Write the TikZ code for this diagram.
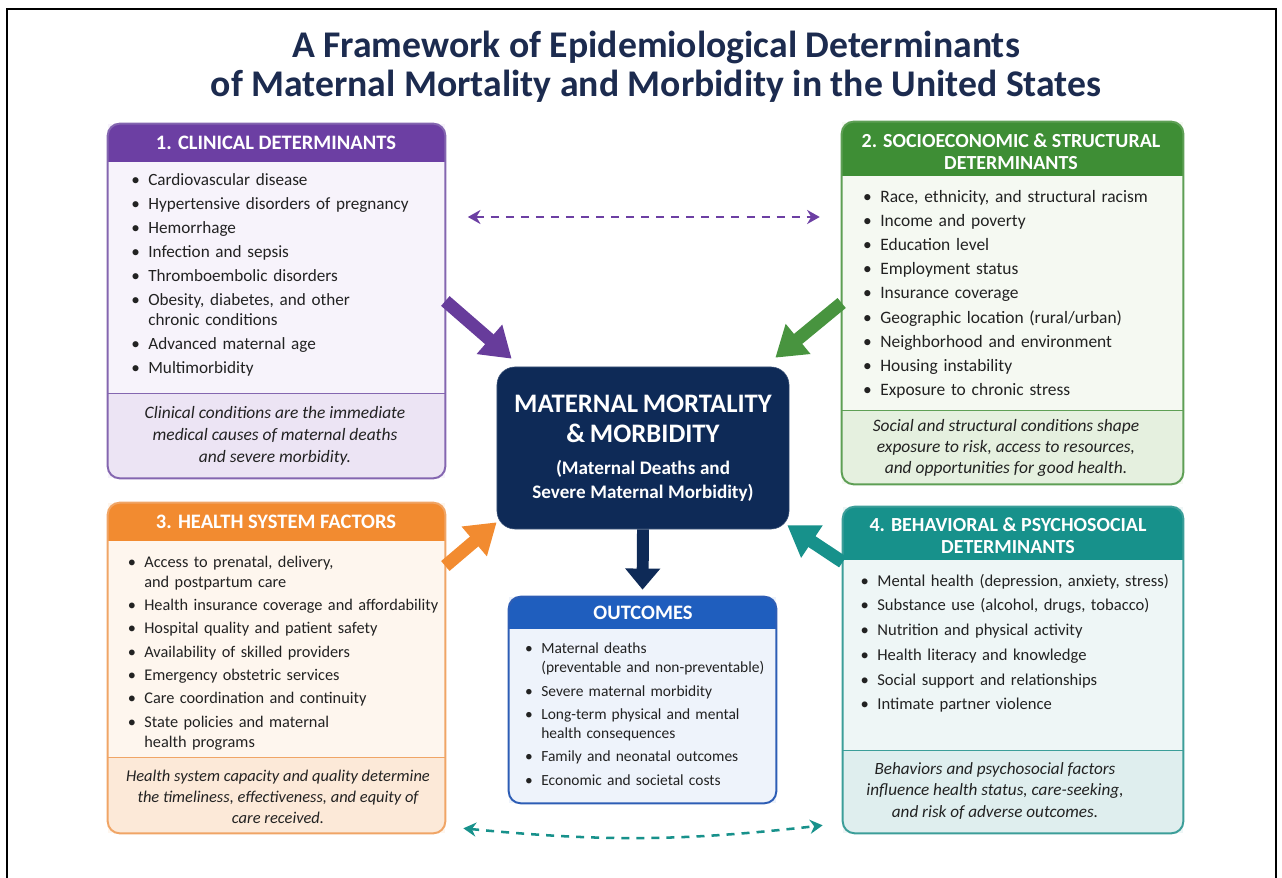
\documentclass[tikz,border=0pt]{standalone}
\usepackage{fontspec}
\setmainfont{Carlito}
\usepackage{enumitem}
\usetikzlibrary{positioning,arrows.meta,calc}

\definecolor{ink}{HTML}{1C2B4F}
\definecolor{txt}{HTML}{222222}
\definecolor{navy}{HTML}{0E2A57}
\definecolor{purpHead}{HTML}{6C3FA3}
\definecolor{purpBody}{HTML}{F7F3FB}
\definecolor{purpFoot}{HTML}{ECE4F4}
\definecolor{purpLine}{HTML}{8466B0}
\definecolor{grnHead}{HTML}{3E8E35}
\definecolor{grnBody}{HTML}{F5F9F2}
\definecolor{grnFoot}{HTML}{E5F0DF}
\definecolor{grnLine}{HTML}{5E9F55}
\definecolor{orngHead}{HTML}{F28B30}
\definecolor{orngBody}{HTML}{FEF6EE}
\definecolor{orngFoot}{HTML}{FCE9D8}
\definecolor{orngLine}{HTML}{F0A566}
\definecolor{tealHead}{HTML}{17918B}
\definecolor{tealBody}{HTML}{EEF6F6}
\definecolor{tealFoot}{HTML}{DFEEEE}
\definecolor{tealLine}{HTML}{3C9E99}
\definecolor{bluHead}{HTML}{1F5EBE}
\definecolor{bluBody}{HTML}{EEF3FB}
\definecolor{bluFoot}{HTML}{EEF3FB}
\definecolor{bluLine}{HTML}{2D5DB5}

\newenvironment{pts}[1][3pt]
  {\begin{itemize}[label=\textbullet, leftmargin=10.7pt, labelsep=6pt,
     itemsep=#1, topsep=0pt, parsep=0pt, partopsep=0pt]}
  {\end{itemize}}

\begin{document}
\begin{tikzpicture}[x=0.025cm, y=-0.025cm,
    card/.style={rectangle, inner sep=0pt},
    head/.style={text=white, font=\fontsize{14.6}{15.6}\selectfont\bfseries, align=center},
    pts/.style={anchor=north west, inner sep=0pt, text width=8.5cm, text=txt},
    note/.style={text=txt, align=center},
    fat/.style={line width=9.2pt, -{Triangle[width=26.3pt, length=21pt]}},
    link/.style={line width=1.8pt, dash pattern=on 5.7pt off 5pt,
      {Stealth[length=9pt, width=10pt]}-{Stealth[length=9pt, width=10pt]}}]

  \useasboundingbox (0,0) rectangle (1282,878);
  \draw[line width=2.1pt] (7,878) -- (7,9) -- (1276,9) -- (1276,878);

  % title
  \node[text=ink, font=\fontsize{26.8}{27.5}\selectfont\bfseries, align=center] (ttl) at (656,67)
    {A Framework of Epidemiological Determinants\\of Maternal Mortality and Morbidity in the United States};

  % the four groups of determinants and the outcomes
  \node[card, fill=purpBody, minimum width=8.425cm, minimum height=8.85cm] (clin) at (276.5,301) {};
  \node[card, fill=grnBody, minimum width=8.525cm, minimum height=9.05cm] (socio) at (1012.5,303) {};
  \node[card, fill=orngBody, minimum width=8.425cm, minimum height=8.25cm] (hsys) at (276.5,668) {};
  \node[card, fill=tealBody, minimum width=8.5cm, minimum height=8.15cm] (behav) at (1013,670) {};
  \node[card, fill=bluBody, minimum width=6.675cm, minimum height=5.15cm] (outc) at (642.5,700) {};

  \foreach \b/\col/\h/\f in {clin/purp/38/85, socio/grn/54/74, hsys/orng/38/76,
                             behav/teal/53/83, outc/blu/32/0} {
    \begin{scope}
      \clip[rounded corners=8.5pt] (\b.north west) rectangle (\b.south east);
      \fill[\col Head] (\b.north west) rectangle ([shift={(0,\h)}]\b.north east);
      \fill[\col Foot] ([shift={(0,-\f)}]\b.south west) rectangle (\b.south east);
      \draw[\col Line, line width=1pt] ([shift={(0,-\f)}]\b.south west) -- ([shift={(0,-\f)}]\b.south east);
    \end{scope}
    \draw[\col Line, line width=1.4pt, rounded corners=8.5pt] (\b.north west) rectangle (\b.south east);
  }

  % centre
  \node[card, fill=navy, draw=navy!80, rounded corners=12.8pt, minimum width=7.3cm,
    minimum height=4.05cm, text=white, text width=7cm, align=center] (core) at (643,448)
    {{\fontsize{19}{21.5}\selectfont\bfseries MATERNAL MORTALITY\\\& MORBIDITY\par}
     \vspace{6pt}
     {\fontsize{13.6}{17}\selectfont\bfseries (Maternal Deaths and\\Severe Maternal Morbidity)\par}};

  % headers
  \node[head] (clinH) at (276,143) {1. CLINICAL DETERMINANTS};
  \node[head, font=\fontsize{14.2}{15.6}\selectfont\bfseries] (socioH) at (1011,152)
    {2. SOCIOECONOMIC \& STRUCTURAL\\DETERMINANTS};
  \node[head] (hsysH) at (276,522) {3. HEALTH SYSTEM FACTORS};
  \node[head, font=\fontsize{14.2}{15.6}\selectfont\bfseries] (behavH) at (1008,536)
    {4. BEHAVIORAL \& PSYCHOSOCIAL\\DETERMINANTS};
  \node[head] (outcH) at (643,613) {OUTCOMES};

  % lists
  \node[pts, font=\fontsize{12.2}{14.2}\selectfont] (clinL) at (133,165) {\begin{pts}[2.9pt]
    \item Cardiovascular disease
    \item Hypertensive disorders of pregnancy
    \item Hemorrhage
    \item Infection and sepsis
    \item Thromboembolic disorders
    \item Obesity, diabetes, and other\newline chronic conditions
    \item Advanced maternal age
    \item Multimorbidity
  \end{pts}};
  \node[pts, font=\fontsize{12.4}{14.2}\selectfont] (socioL) at (865,182) {\begin{pts}[3pt]
    \item Race, ethnicity, and structural racism
    \item Income and poverty
    \item Education level
    \item Employment status
    \item Insurance coverage
    \item Geographic location (rural/urban)
    \item Neighborhood and environment
    \item Housing instability
    \item Exposure to chronic stress
  \end{pts}};
  \node[pts, font=\fontsize{11.6}{14.2}\selectfont] (hsysL) at (129,547) {\begin{pts}[2.4pt]
    \item Access to prenatal, delivery,\newline and postpartum care
    \item Health insurance coverage and affordability
    \item Hospital quality and patient safety
    \item Availability of skilled providers
    \item Emergency obstetric services
    \item Care coordination and continuity
    \item State policies and maternal\newline health programs
  \end{pts}};
  \node[pts, font=\fontsize{11.8}{14.2}\selectfont] (behavL) at (862,566) {\begin{pts}[3.4pt]
    \item Mental health (depression, anxiety, stress)
    \item Substance use (alcohol, drugs, tobacco)
    \item Nutrition and physical activity
    \item Health literacy and knowledge
    \item Social support and relationships
    \item Intimate partner violence
  \end{pts}};
  \node[pts, font=\fontsize{11}{13.2}\selectfont] (outcL) at (526,635) {\begin{pts}[3.6pt]
    \item Maternal deaths\newline (preventable and non-preventable)
    \item Severe maternal morbidity
    \item Long-term physical and mental\newline health consequences
    \item Family and neonatal outcomes
    \item Economic and societal costs
  \end{pts}};

  % notes
  \node[note, font=\fontsize{12.4}{15.6}\selectfont\itshape] (clinN) at (275,436)
    {Clinical conditions are the immediate\\medical causes of maternal deaths\\and severe morbidity.};
  \node[note, font=\fontsize{12.4}{15}\selectfont\itshape] (socioN) at (1006,448)
    {Social and structural conditions shape\\exposure to risk, access to resources,\\and opportunities for good health.};
  \node[note, font=\fontsize{11.7}{14.8}\selectfont\itshape] (hsysN) at (278,797)
    {Health system capacity and quality determine\\the timeliness, effectiveness, and equity of\\care received.};
  \node[note, font=\fontsize{12.2}{15.4}\selectfont\itshape] (behavN) at (995,791)
    {Behaviors and psychosocial factors\\influence health status, care-seeking,\\and risk of adverse outcomes.};

  % arrows into the centre
  \draw[fat, purpHead!95!black] (clin.east) -- ([shift={(15,-8)}]core.north west);
  \draw[fat, grnHead!95!white] (socio.west) -- ([shift={(-14,-9)}]core.north east);
  \draw[fat, orngHead] ([shift={(0,-102)}]hsys.east) -- ([shift={(0,-7)}]core.south west);
  \draw[fat, tealHead] ([shift={(0,-108)}]behav.west) -- ([shift={(-2,-4)}]core.south east);
  \draw[line width=8.5pt, -{Triangle[width=24pt, length=15pt]}, navy, shorten >=5pt]
    (core.south) -- (outc.north);

  % links between groups
  \draw[link, purpHead, shorten <=16pt, shorten >=15.6pt]
    ([shift={(0,-84)}]clin.east) -- ([shift={(0,-86)}]socio.west);
  \draw[link, tealHead] ([shift={(18,-5)}]hsys.south east) to[bend right=6] ([shift={(-20,-8)}]behav.south west);
\end{tikzpicture}
\end{document}
